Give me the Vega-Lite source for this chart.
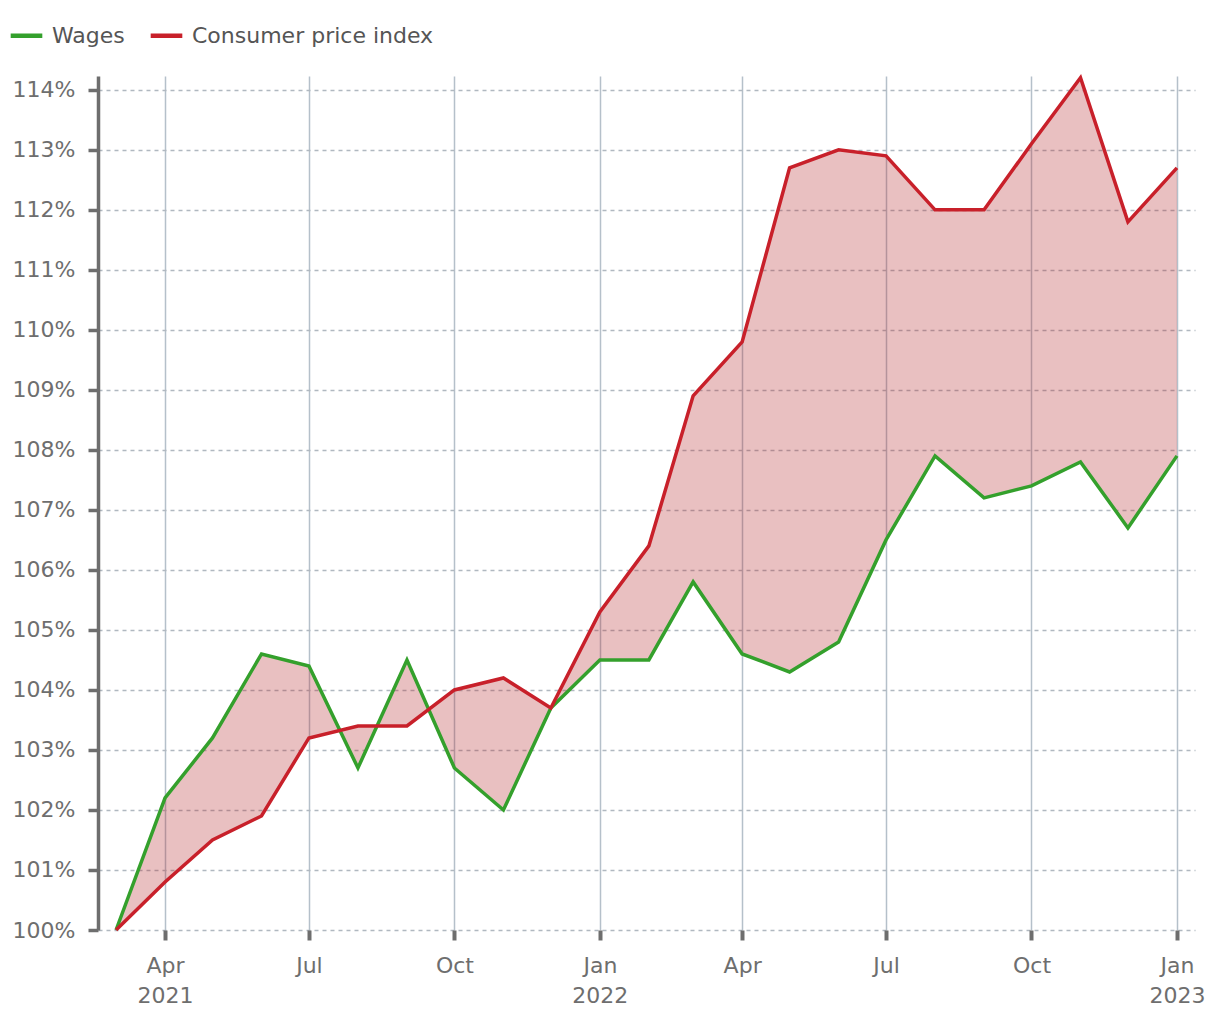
{
  "$schema": "https://vega.github.io/schema/vega-lite/v6.json",
  "width": 1097,
  "height": 854,
  "autosize": {"type": "none"},
  "padding": {"left": 98, "top": 76, "right": 25, "bottom": 90},
  "background": "white",
  "config": {
    "font": "DejaVu Sans",
    "view": {"stroke": null}
  },
  "data": {
    "values": [
      {"date": "2021-03-01", "Wages": 100.0, "Consumer price index": 100.0},
      {"date": "2021-04-01", "Wages": 102.2, "Consumer price index": 100.8},
      {"date": "2021-05-01", "Wages": 103.2, "Consumer price index": 101.5},
      {"date": "2021-06-01", "Wages": 104.6, "Consumer price index": 101.9},
      {"date": "2021-07-01", "Wages": 104.4, "Consumer price index": 103.2},
      {"date": "2021-08-01", "Wages": 102.7, "Consumer price index": 103.4},
      {"date": "2021-09-01", "Wages": 104.5, "Consumer price index": 103.4},
      {"date": "2021-10-01", "Wages": 102.7, "Consumer price index": 104.0},
      {"date": "2021-11-01", "Wages": 102.0, "Consumer price index": 104.2},
      {"date": "2021-12-01", "Wages": 103.7, "Consumer price index": 103.7},
      {"date": "2022-01-01", "Wages": 104.5, "Consumer price index": 105.3},
      {"date": "2022-02-01", "Wages": 104.5, "Consumer price index": 106.4},
      {"date": "2022-03-01", "Wages": 105.8, "Consumer price index": 108.9},
      {"date": "2022-04-01", "Wages": 104.6, "Consumer price index": 109.8},
      {"date": "2022-05-01", "Wages": 104.3, "Consumer price index": 112.7},
      {"date": "2022-06-01", "Wages": 104.8, "Consumer price index": 113.0},
      {"date": "2022-07-01", "Wages": 106.5, "Consumer price index": 112.9},
      {"date": "2022-08-01", "Wages": 107.9, "Consumer price index": 112.0},
      {"date": "2022-09-01", "Wages": 107.2, "Consumer price index": 112.0},
      {"date": "2022-10-01", "Wages": 107.4, "Consumer price index": 113.1},
      {"date": "2022-11-01", "Wages": 107.8, "Consumer price index": 114.2},
      {"date": "2022-12-01", "Wages": 106.7, "Consumer price index": 111.8},
      {"date": "2023-01-01", "Wages": 107.9, "Consumer price index": 112.7}
    ]
  },
  "encoding": {
    "x": {
      "field": "date",
      "type": "temporal",
      "scale": {
        "type": "utc",
        "domain": [
          {"year": 2021, "month": 2, "date": 17, "hours": 14, "utc": true},
          {"year": 2023, "month": 1, "date": 12, "hours": 10, "utc": true}
        ]
      },
      "axis": {
        "title": null,
        "values": [
          {"year": 2021, "month": 4, "date": 1, "utc": true},
          {"year": 2021, "month": 7, "date": 1, "utc": true},
          {"year": 2021, "month": 10, "date": 1, "utc": true},
          {"year": 2022, "month": 1, "date": 1, "utc": true},
          {"year": 2022, "month": 4, "date": 1, "utc": true},
          {"year": 2022, "month": 7, "date": 1, "utc": true},
          {"year": 2022, "month": 10, "date": 1, "utc": true},
          {"year": 2023, "month": 1, "date": 1, "utc": true}
        ],
        "labelExpr": "(utcmonth(datum.value) == 0 || (utcyear(datum.value) == 2021 && utcmonth(datum.value) == 3)) ? [utcFormat(datum.value, '%b'), utcFormat(datum.value, '%Y')] : utcFormat(datum.value, '%b')",
        "labelFontSize": 22,
        "labelColor": "#6e6e6e",
        "labelPadding": 15,
        "labelLineHeight": 30,
        "labelOverlap": false,
        "domain": false,
        "ticks": true,
        "tickSize": 10,
        "tickWidth": 4,
        "tickColor": "#6e6e6e",
        "grid": true,
        "gridColor": "#b5c0ca",
        "gridWidth": 1.5
      }
    }
  },
  "layer": [
    {
      "mark": {"type": "area", "color": "#b3262b", "opacity": 0.29},
      "encoding": {
        "y": {
          "field": "Consumer price index",
          "type": "quantitative",
          "scale": {"domain": [100, 114.23], "nice": false, "zero": false},
          "axis": {
            "title": null,
            "values": [100, 101, 102, 103, 104, 105, 106, 107, 108, 109, 110, 111, 112, 113, 114],
            "labelExpr": "datum.value + '%'",
            "labelFontSize": 22,
            "labelColor": "#6e6e6e",
            "labelPadding": 13,
            "domain": true,
            "domainColor": "#6e6e6e",
            "domainWidth": 3.5,
            "tickSize": 10,
            "tickWidth": 3.5,
            "tickColor": "#6e6e6e",
            "grid": true,
            "gridColor": "#b0b8c0",
            "gridWidth": 1.5,
            "gridDash": [4, 4]
          }
        },
        "y2": {"field": "Wages"}
      }
    },
    {
      "transform": [
        {"fold": ["Wages", "Consumer price index"], "as": ["series", "value"]}
      ],
      "mark": {"type": "line", "strokeWidth": 3.5},
      "encoding": {
        "y": {"field": "value", "type": "quantitative"},
        "color": {
          "field": "series",
          "type": "nominal",
          "scale": {
            "domain": ["Wages", "Consumer price index"],
            "range": ["#34a02c", "#c8202a"]
          },
          "legend": {
            "title": null,
            "orient": "none",
            "direction": "horizontal",
            "legendX": -90,
            "legendY": -59,
            "symbolType": "stroke",
            "symbolStrokeWidth": 4.5,
            "symbolSize": 1000,
            "labelFontSize": 22,
            "labelLimit": 0,
            "labelOffset": 7,
            "labelColor": "#555555",
            "columnPadding": 16,
            "symbolOffset": 0
          }
        }
      }
    }
  ]
}
